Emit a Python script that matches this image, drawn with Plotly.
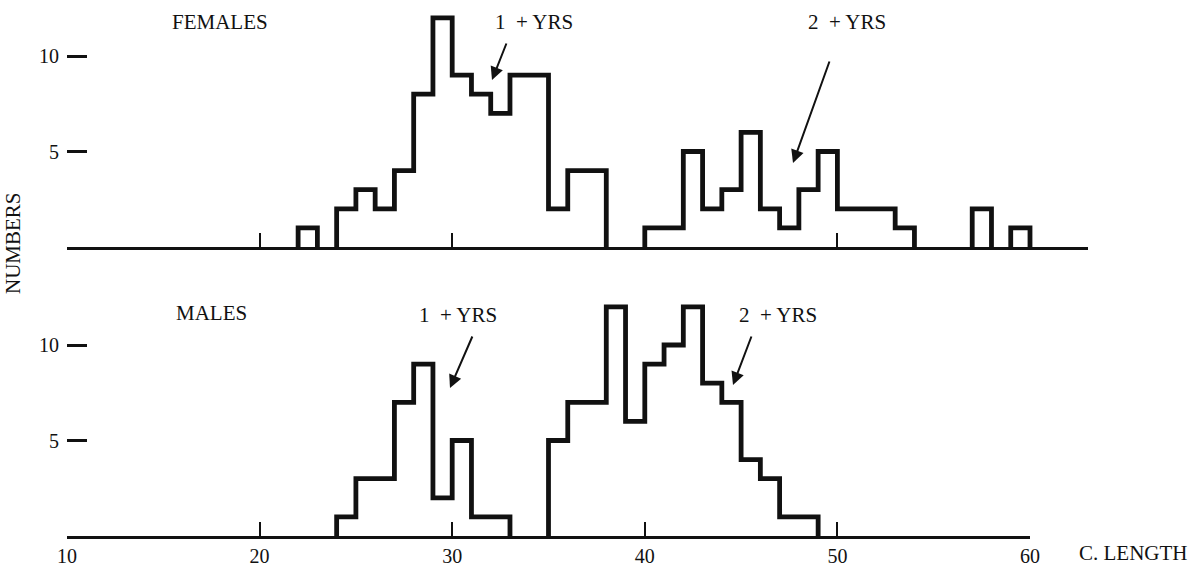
import plotly.graph_objects as go

# ---------------- data ----------------
female_length = [22, 23, 24, 25, 26, 27, 28, 29, 30, 31, 32, 33, 34, 35, 36, 37, 38, 39,
                 40, 41, 42, 43, 44, 45, 46, 47, 48, 49, 50, 51, 52, 53, 54, 55, 56, 57, 58, 59]
female_count = [1, 0, 2, 3, 2, 4, 8, 12, 9, 8, 7, 9, 9, 2, 4, 4, 0, 0,
                1, 1, 5, 2, 3, 6, 2, 1, 3, 5, 2, 2, 2, 1, 0, 0, 0, 2, 0, 1]

male_length = [24, 25, 26, 27, 28, 29, 30, 31, 32, 33, 34, 35, 36, 37, 38, 39, 40, 41,
               42, 43, 44, 45, 46, 47, 48]
male_count = [1, 3, 3, 7, 9, 2, 5, 1, 1, 0, 0, 5, 7, 7, 12, 6, 9, 10,
              12, 8, 7, 4, 3, 1, 1]

x_ticks = [10, 20, 30, 40, 50, 60]
x_tick_text = ["10", "20", "30", "40", "50", "60"]
y_ticks = [5, 10]
y_tick_text = ["5", "10"]
bin_width = 1

# ---------------- layout geometry (pixels) ----------------
W, H = 1195, 568
X0 = 67            # pixel of length 10
UX = 19.26         # pixels per length unit
UY = 19.1          # pixels per count
F_BASE = 247       # female baseline pixel row
M_BASE = 536       # male baseline pixel row
YTOP = 12.5
INK = "#111111"
FONT = "Liberation Serif"


def px(xp):
    return xp / W


def py(yp):
    return 1 - yp / H


def step_path(starts, counts):
    xs, ys = [], []
    i = 0
    n = len(starts)
    while i < n:
        if counts[i] == 0:
            i += 1
            continue
        xs.append(starts[i]); ys.append(0)
        j = i
        while j < n and counts[j] > 0:
            xs.append(starts[j]); ys.append(counts[j])
            j += 1
        xs.append(starts[j - 1] + bin_width); ys.append(0)
        xs.append(None); ys.append(None)
        i = j
    return xs, ys


fx, fy = step_path(female_length, female_count)
mx, my = step_path(male_length, male_count)

fig = go.Figure()
fig.add_trace(go.Scatter(x=fx, y=fy, mode="lines", line=dict(color=INK, width=4.8, shape="hv"),
                         connectgaps=False, xaxis="x", yaxis="y", hoverinfo="skip"))
fig.add_trace(go.Scatter(x=mx, y=my, mode="lines", line=dict(color=INK, width=4.8, shape="hv"),
                         connectgaps=False, xaxis="x2", yaxis="y2", hoverinfo="skip"))

tick_font = dict(family=FONT, size=20, color=INK)
common_x = dict(showgrid=False, zeroline=False, showline=True, linecolor=INK, linewidth=2.5,
                ticks="inside", tickvals=x_ticks, ticktext=x_tick_text, ticklen=14,
                tickwidth=2.2, tickcolor=INK, tickfont=tick_font, fixedrange=True,
                automargin=False)
common_y = dict(showgrid=False, zeroline=False, showline=False, range=[0, YTOP],
                ticks="inside", tickvals=y_ticks, ticktext=y_tick_text, ticklen=20,
                tickwidth=2.5, tickcolor=INK, tickfont=tick_font, fixedrange=True,
                ticklabelstandoff=7, automargin=False)

f_right = X0 + 53 * UX
fig.update_layout(
    width=W, height=H,
    margin=dict(l=0, r=0, t=0, b=0, pad=0),
    paper_bgcolor="white", plot_bgcolor="white",
    showlegend=False,
    font=dict(family=FONT, color=INK),
    xaxis=dict(domain=[px(X0), px(f_right)], range=[10, 63], anchor="y",
               showticklabels=False, **common_x),
    yaxis=dict(domain=[py(F_BASE), py(F_BASE - YTOP * UY)], anchor="x", **common_y),
    xaxis2=dict(domain=[px(X0), px(X0 + 50 * UX)], range=[10, 60], anchor="y2",
                showticklabels=True, **common_x),
    yaxis2=dict(domain=[py(M_BASE), py(M_BASE - YTOP * UY)], anchor="x2", **common_y),
)

lab_font = dict(family=FONT, size=21, color=INK)
texts = [
    ("FEMALES", 220, 22, 0),
    ("MALES", 211, 313, 0),
    ("1\u00a0 + YRS", 534, 22, 0),
    ("2\u00a0 + YRS", 847, 22, 0),
    ("1\u00a0 + YRS", 458, 315, 0),
    ("2\u00a0 + YRS", 778, 315, 0),
    ("NUMBERS", 13, 243, -90),
    ("C. LENGTH", 1133, 553, 0),
]
for t, x, y, ang in texts:
    fig.add_annotation(text=t, x=px(x), y=py(y), xref="paper", yref="paper",
                       showarrow=False, font=lab_font, textangle=ang,
                       xanchor="center", yanchor="middle")

arrows = [  # (head_x, head_y, tail_x, tail_y) in pixels
    (492, 80, 507, 42),
    (793, 163, 830, 60),
    (450, 388, 473, 335),
    (733, 385, 752, 335),
]
for hx, hy, tx, ty in arrows:
    fig.add_annotation(text="", x=px(hx), y=py(hy), xref="paper", yref="paper",
                       ax=tx - hx, ay=ty - hy, axref="pixel", ayref="pixel",
                       showarrow=True, arrowhead=2, arrowsize=1.3, arrowwidth=2,
                       arrowcolor=INK, standoff=0, startstandoff=0)

fig.write_html("out.html", config={"responsive": False, "displayModeBar": False},
               post_script="document.body.style.margin='0';document.body.style.overflow='hidden';")
